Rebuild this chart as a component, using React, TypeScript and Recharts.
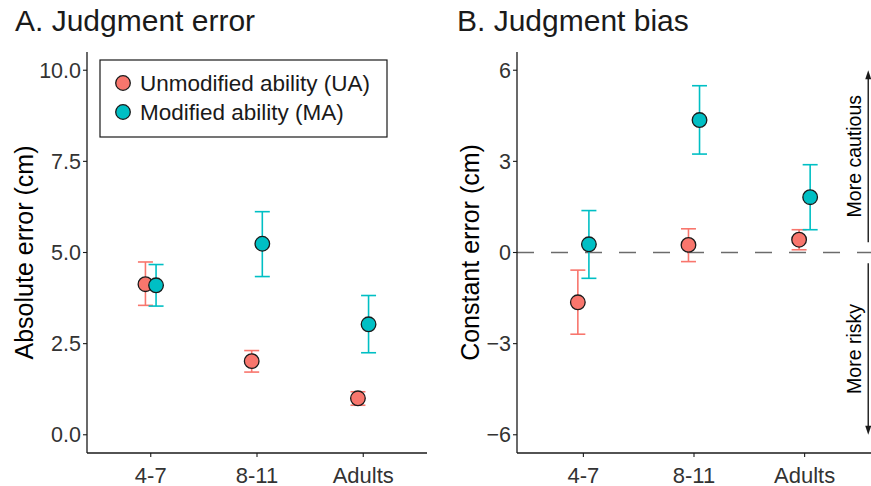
import { ScatterChart, Scatter, XAxis, YAxis, ErrorBar, ReferenceLine } from 'recharts';

const FONT = '"Liberation Sans", Arial, Helvetica, sans-serif';
const UA_COLOR = '#F8766D';
const MA_COLOR = '#00BFC4';
const INK = '#1a1a1a';
const TICK_TEXT = '#333333';

// age groups on the x axis
const categories = ['4-7', '8-11', 'Adults'];

// A. absolute error (cm): means and interval bounds
const uaAbsMean = [4.13, 2.02, 1.0];
const uaAbsLow = [3.55, 1.72, 0.81];
const uaAbsHigh = [4.74, 2.31, 1.18];
const maAbsMean = [4.1, 5.24, 3.03];
const maAbsLow = [3.53, 4.34, 2.25];
const maAbsHigh = [4.67, 6.12, 3.82];

// B. constant error (cm)
const uaConMean = [-1.64, 0.25, 0.42];
const uaConLow = [-2.69, -0.3, 0.09];
const uaConHigh = [-0.58, 0.78, 0.75];
const maConMean = [0.27, 4.36, 1.82];
const maConLow = [-0.85, 3.24, 0.75];
const maConHigh = [1.38, 5.49, 2.89];

const absTicks = [0, 2.5, 5, 7.5, 10];
const conTicks = [-6, -3, 0, 3, 6];

const DODGE = 0.05;

function build(mean: number[], low: number[], high: number[], shift: number) {
  return categories.map((c, i) => ({
    x: i + 1 + shift,
    y: mean[i],
    err: [mean[i] - low[i], high[i] - mean[i]],
  }));
}

const uaAbs = build(uaAbsMean, uaAbsLow, uaAbsHigh, -DODGE);
const maAbs = build(maAbsMean, maAbsLow, maAbsHigh, DODGE);
const uaCon = build(uaConMean, uaConLow, uaConHigh, -DODGE);
const maCon = build(maConMean, maConLow, maConHigh, DODGE);

const dot = (fill: string) => (props: any) => (
  <circle cx={props.cx} cy={props.cy} r={7.3} fill={fill} stroke={INK} strokeWidth={1.3} />
);

const arrow = (text: string) => (props: any) => {
  const { x1, y1, x2, y2 } = props;
  const dir = y2 < y1 ? -1 : 1;
  const mid = (y1 + y2) / 2;
  return (
    <g>
      <line x1={x1} y1={y1} x2={x2} y2={y2 - dir * 6} stroke={INK} strokeWidth={1.4} />
      <polygon points={`${x2},${y2} ${x2 - 3},${y2 - dir * 9} ${x2 + 3},${y2 - dir * 9}`} fill={INK} />
      <text
        x={x1 - 14}
        y={mid}
        transform={`rotate(-90 ${x1 - 14} ${mid})`}
        textAnchor="middle"
        dominantBaseline="central"
        fontSize={19.5}
        fill="#000"
      >
        {text}
      </text>
    </g>
  );
};

const catLabel = (v: number) => categories[Math.round(v) - 1] ?? '';
const signed = (v: number) => (v < 0 ? `\u2212${Math.abs(v)}` : `${v}`);

const axisProps = {
  axisLine: { stroke: INK, strokeWidth: 1.3 },
  tickLine: { stroke: INK, strokeWidth: 1.1 },
  tickSize: 4,
};

function Legend() {
  return (
    <svg width={290} height={80} style={{ position: 'absolute', left: 99, top: 59 }}>
      <rect x={1} y={1} width={287} height={77} fill="#fff" stroke={INK} strokeWidth={1.2} />
      <circle cx={24} cy={24} r={7.3} fill={UA_COLOR} stroke={INK} strokeWidth={1.3} />
      <text x={41} y={24} dominantBaseline="central" fontSize={22.5} fill={INK}>
        Unmodified ability (UA)
      </text>
      <circle cx={24} cy={53} r={7.3} fill={MA_COLOR} stroke={INK} strokeWidth={1.3} />
      <text x={41} y={53} dominantBaseline="central" fontSize={22.5} fill={INK}>
        Modified ability (MA)
      </text>
    </svg>
  );
}

export default function App() {
  return (
    <div
      style={{
        position: 'absolute',
        left: 0,
        top: 0,
        width: 871,
        height: 486,
        background: '#fff',
        fontFamily: FONT,
        overflow: 'hidden',
      }}
    >
      <svg width={871} height={45} style={{ position: 'absolute', left: 0, top: 0 }}>
        <text x={15} y={31} fontSize={30} fill={INK}>A. Judgment error</text>
        <text x={457} y={31} fontSize={30} fill={INK}>B. Judgment bias</text>
      </svg>

      <div style={{ position: 'absolute', left: 0, top: 0 }}>
        <ScatterChart width={440} height={486} margin={{ top: 52, right: 13, bottom: 0, left: 0 }}>
          <XAxis
            type="number"
            dataKey="x"
            domain={[0.4, 3.6]}
            ticks={[1, 2, 3]}
            interval={0}
            tickFormatter={catLabel}
            height={33}
            tickMargin={10}
            tick={{ fill: TICK_TEXT, fontSize: 22 }}
            allowDataOverflow
            {...axisProps}
          />
          <YAxis
            type="number"
            dataKey="y"
            domain={[-0.5, 10.5]}
            ticks={absTicks}
            interval={0}
            tickFormatter={(v: number) => v.toFixed(1)}
            width={87}
            tickMargin={2}
            tick={{ fill: TICK_TEXT, fontSize: 21.5 }}
            allowDataOverflow
            label={{
              value: 'Absolute error (cm)',
              angle: -90,
              position: 'insideLeft',
              offset: 24,
              style: { textAnchor: 'middle', fontSize: 25, fill: '#000' },
            }}
            {...axisProps}
          />
          <Scatter data={uaAbs} shape={dot(UA_COLOR)} isAnimationActive={false}>
            <ErrorBar dataKey="err" direction="y" width={7.5} stroke={UA_COLOR} strokeWidth={1.6} />
          </Scatter>
          <Scatter data={maAbs} shape={dot(MA_COLOR)} isAnimationActive={false}>
            <ErrorBar dataKey="err" direction="y" width={7.5} stroke={MA_COLOR} strokeWidth={1.6} />
          </Scatter>
        </ScatterChart>
      </div>

      <div style={{ position: 'absolute', left: 440, top: 0 }}>
        <ScatterChart width={431} height={486} margin={{ top: 52, right: 0, bottom: 0, left: 0 }}>
          <XAxis
            type="number"
            dataKey="x"
            domain={[0.4, 3.6]}
            ticks={[1, 2, 3]}
            interval={0}
            tickFormatter={catLabel}
            height={33}
            tickMargin={10}
            tick={{ fill: TICK_TEXT, fontSize: 22 }}
            allowDataOverflow
            {...axisProps}
          />
          <YAxis
            type="number"
            dataKey="y"
            domain={[-6.6, 6.6]}
            ticks={conTicks}
            interval={0}
            tickFormatter={signed}
            width={77}
            tickMargin={2}
            tick={{ fill: TICK_TEXT, fontSize: 21.5 }}
            allowDataOverflow
            label={{
              value: 'Constant error (cm)',
              angle: -90,
              position: 'insideLeft',
              offset: 30,
              style: { textAnchor: 'middle', fontSize: 25, fill: '#000' },
            }}
            {...axisProps}
          />
          <ReferenceLine y={0} stroke="#6b6b6b" strokeWidth={1.3} strokeDasharray="17 17" />
          <ReferenceLine
            segment={[{ x: 3.575, y: 0.34 }, { x: 3.575, y: 6 }]}
            shape={arrow('More cautious')}
            ifOverflow="visible"
          />
          <ReferenceLine
            segment={[{ x: 3.575, y: -0.35 }, { x: 3.575, y: -6 }]}
            shape={arrow('More risky')}
            ifOverflow="visible"
          />
          <Scatter data={uaCon} shape={dot(UA_COLOR)} isAnimationActive={false}>
            <ErrorBar dataKey="err" direction="y" width={7.5} stroke={UA_COLOR} strokeWidth={1.6} />
          </Scatter>
          <Scatter data={maCon} shape={dot(MA_COLOR)} isAnimationActive={false}>
            <ErrorBar dataKey="err" direction="y" width={7.5} stroke={MA_COLOR} strokeWidth={1.6} />
          </Scatter>
        </ScatterChart>
      </div>

      <Legend />
    </div>
  );
}
